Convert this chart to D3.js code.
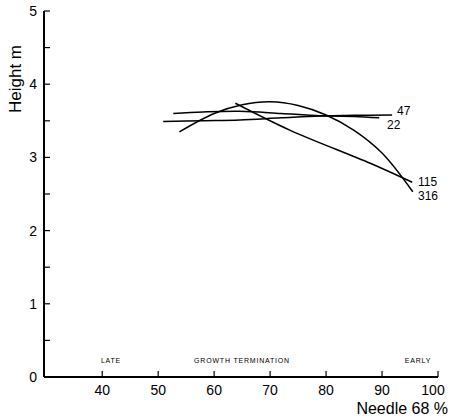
<!DOCTYPE html>
<html>
<head>
<meta charset="UTF-8">
<script src="https://d3js.org/d3.v7.min.js"></script>
<style>
  body { margin: 0; background: #fff; }
  text { font-family: "Liberation Sans", Arial, sans-serif; fill: #000; }
  .curve { fill: none; stroke: #000; stroke-width: 1.5px; }
  .ax { stroke: #000; stroke-width: 2px; fill: none; }
  .tick { stroke: #000; stroke-width: 1.2px; }
  .note { font-size: 7px; letter-spacing: 0.8px; }
</style>
</head>
<body>
<svg width="451" height="418"></svg>
<script>
// values (needle %, height m)
const xTicks = [40, 50, 60, 70, 80, 90, 100];
const yTicks = [0, 1, 2, 3, 4, 5];
const yMinor = [0.5, 1.5, 2.5, 3.5, 4.5];

const s47  = [[52.7, 3.60], [58, 3.62], [64.6, 3.63], [72, 3.60], [78.9, 3.57], [85, 3.575], [91.8, 3.58]];
const s22  = [[50.9, 3.49], [58, 3.50], [64.6, 3.51], [72, 3.54], [79, 3.565], [85, 3.56], [89.5, 3.54]];
const s115 = [[63.8, 3.74], [73.6, 3.37], [87.9, 2.92], [95.4, 2.66]];
const s316 = [[53.8, 3.35], [60, 3.60], [65, 3.72], [70, 3.76], [75, 3.71], [80, 3.58], [85, 3.37], [90, 3.06], [95.5, 2.53]];

const series = [
  { name: "47",  pts: s47,  lx: 397, ly: 115 },
  { name: "22",  pts: s22,  lx: 387, ly: 129 },
  { name: "115", pts: s115, lx: 418, ly: 186 },
  { name: "316", pts: s316, lx: 418, ly: 200 }
];

const notes = [
  { text: "LATE", x: 111 },
  { text: "GROWTH  TERMINATION", x: 242 },
  { text: "EARLY", x: 418 }
];

const svg = d3.select("svg");
const x = d3.scaleLinear().domain([29.6, 100]).range([44, 438]);
const y = d3.scaleLinear().domain([0, 5]).range([377, 11]);

// axes lines
svg.append("line").attr("class", "ax")
  .attr("x1", x(29.6)).attr("x2", x(100)).attr("y1", y(0)).attr("y2", y(0));
svg.append("line").attr("class", "ax")
  .attr("x1", x(29.6)).attr("x2", x(29.6)).attr("y1", y(0)).attr("y2", y(5));

// y ticks (inward)
svg.selectAll(".yt").data(yTicks.concat(yMinor)).enter().append("line")
  .attr("class", "tick")
  .attr("x1", x(29.6)).attr("x2", x(29.6) + 6)
  .attr("y1", d => y(d)).attr("y2", d => y(d));
svg.selectAll(".yl").data(yTicks).enter().append("text")
  .attr("x", 37).attr("y", d => y(d) + 5)
  .attr("text-anchor", "end").style("font-size", "14px")
  .text(d => d);

// x ticks (inward)
svg.selectAll(".xt").data(xTicks).enter().append("line")
  .attr("class", "tick")
  .attr("x1", d => x(d)).attr("x2", d => x(d))
  .attr("y1", y(0)).attr("y2", y(0) - 6);
svg.selectAll(".xl").data(xTicks).enter().append("text")
  .attr("x", d => d === 100 ? x(d) - 5 : x(d)).attr("y", 395)
  .attr("text-anchor", "middle").style("font-size", "14px")
  .text(d => d);

// axis titles
svg.append("text").attr("x", 448).attr("y", 414)
  .attr("text-anchor", "end").style("font-size", "16px")
  .text("Needle 68 %");
svg.append("text")
  .attr("transform", "translate(21,113) rotate(-90)")
  .style("font-size", "17px")
  .text("Height m");

// growth termination notes
svg.selectAll(".note").data(notes).enter().append("text")
  .attr("class", "note")
  .attr("x", d => d.x).attr("y", 363)
  .attr("text-anchor", "middle")
  .text(d => d.text);

// curves
const line = d3.line().x(d => x(d[0])).y(d => y(d[1])).curve(d3.curveCatmullRom);
svg.selectAll(".curve").data(series).enter().append("path")
  .attr("class", "curve")
  .attr("d", d => line(d.pts));
svg.selectAll(".lab").data(series).enter().append("text")
  .attr("x", d => d.lx).attr("y", d => d.ly)
  .style("font-size", "12px")
  .text(d => d.name);
</script>
</body>
</html>
